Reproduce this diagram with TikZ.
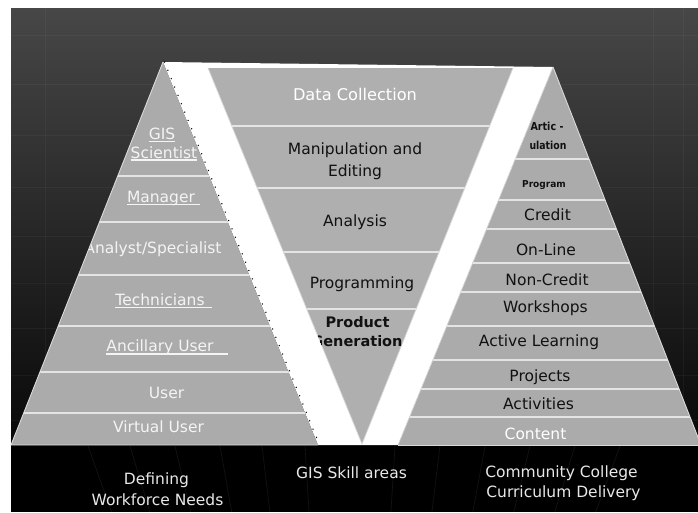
\documentclass[tikz,border=0pt]{standalone}
\usepackage{fontspec}
\setmainfont{DejaVu Sans}
\definecolor{bgtop}{HTML}{474747}
\definecolor{bgmid}{HTML}{2B2B2B}
\definecolor{bgbot}{HTML}{080808}
\definecolor{pyrcol}{HTML}{ABABAB}
\definecolor{midcol}{HTML}{AFAFAF}
\definecolor{sepcol}{HTML}{E4E4E4}
\definecolor{edgecol}{HTML}{DADADA}
\definecolor{lighttxt}{HTML}{F4F4F4}
\definecolor{darktxt}{HTML}{111111}
\definecolor{bottxt}{HTML}{E8E8E8}
\begin{document}
\begin{tikzpicture}[x=1pt,y=-1pt,
  lt/.style={font=\fontsize{15.5}{18}\selectfont, text=lighttxt, inner sep=0pt, anchor=base},
  dk/.style={font=\fontsize{15.5}{18}\selectfont, text=darktxt, inner sep=0pt, anchor=base},
  dkb/.style={font=\fontsize{14.5}{17}\selectfont\bfseries, text=darktxt, inner sep=0pt, anchor=base},
  dks/.style={font=\fontsize{11}{13}\selectfont\bfseries, text=darktxt, inner sep=0pt, anchor=base},
  bt/.style={font=\fontsize{15.5}{18}\selectfont, text=bottxt, inner sep=0pt, anchor=base},
  ulline/.style={draw=lighttxt, line width=1.2pt},
  sepline/.style={draw=sepcol, line width=1.8pt},
  edgeline/.style={draw=edgecol, line width=0.9pt},
  faint/.style={draw=white, opacity=0.04, line width=0.8pt},
  floorline/.style={draw=white, opacity=0.08, line width=0.6pt},
]
\useasboundingbox (0,0) rectangle (698,512);
\fill[white] (0,0) rectangle (698,512);
% background
\shade[top color=bgtop, middle color=bgmid, bottom color=bgbot] (11,8) rectangle (698,445);
\fill[black] (11,445) rectangle (698,512);
\foreach \y in {35,84,135,187,236,283,328,375,420} \draw[faint] (11,\y) -- (698,\y);
\foreach \x in {45,653,683} \draw[faint] (\x,8) -- (\x,445);
\foreach \x in {88,130,175,220,262,305,395,440,485,530,575,620} \draw[floorline] (\x,446) -- ({\x+(350-\x)*0.09},512);
% coordinates
\coordinate (LA) at (163,62);
\coordinate (LL) at (11,445);
\coordinate (LR) at (318,445);
\coordinate (MA) at (208,68);
\coordinate (MB) at (513,68);
\coordinate (MC) at (362,444);
\coordinate (RA) at (553,67);
\coordinate (RL) at (398,445);
\coordinate (RR) at (701,445);
% white band
\fill[white] (LA) -- (RA) -- (RL) -- (LR) -- cycle;
% pyramids
\fill[pyrcol] (LA) -- (LR) -- (LL) -- cycle;
\fill[midcol] (MA) -- (MB) -- (MC) -- cycle;
\fill[pyrcol] (RA) -- (RR) -- (RL) -- cycle;
% separators
\begin{scope}
  \clip (LA) -- (LR) -- (LL) -- cycle;
  \foreach \y in {176,222,275,326,372,413} \draw[sepline] (0,\y) -- (698,\y);
\end{scope}
\begin{scope}
  \clip (MA) -- (MB) -- (MC) -- cycle;
  \foreach \y in {126,188,252,309} \draw[sepline] (0,\y) -- (698,\y);
\end{scope}
\begin{scope}
  \clip (RA) -- (RR) -- (RL) -- cycle;
  \foreach \y in {159,200,229,263,292,326,360,389,417} \draw[sepline] (0,\y) -- (698,\y);
\end{scope}
% edges
\draw[edgeline] (LA) -- (LL) -- (LR);
\draw[edgeline] (RA) -- (RR);
\draw[edgeline] (RL) -- (RR);
\draw[draw=edgecol, line width=0.7pt] (MA) -- (MC) -- (MB);
\draw[draw=edgecol, line width=0.7pt] (RA) -- (RL);
\draw[black, line width=1.5pt, line cap=round, dash pattern=on 0pt off 9pt] ([xshift=1.5pt]LA) -- ([xshift=1.5pt]LR);
% left pyramid texts
\begin{scope}
  \clip (LA) -- (LR) -- (LL) -- cycle;
  \node[lt] (gis) at (162,139.5) {GIS};
  \node[lt] (sci) at (164,158) {Scientist};
  \node[lt] (mgr) at (161,202.5) {Manager};
  \node[lt] (ana) at (153,253) {Analyst/Specialist};
  \node[lt] (tec) at (160,305) {Technicians};
  \node[lt] (anc) at (160,351.5) {Ancillary User};
  \node[lt] (usr) at (166.5,398) {User};
  \node[lt] (vus) at (158.5,432) {Virtual User};
  \draw[ulline] ([yshift=-1.6pt]gis.base west) -- ([yshift=-1.6pt]gis.base east);
  \draw[ulline] ([yshift=-2pt]sci.base west) -- ([yshift=-2pt]sci.base east);
  \draw[ulline] ([yshift=-1.8pt]mgr.base west) -- ([yshift=-1.8pt,xshift=5pt]mgr.base east);
  \draw[ulline] ([yshift=-2.5pt]tec.base west) -- ([yshift=-2.5pt,xshift=7pt]tec.base east);
  \draw[ulline] ([yshift=-2.5pt]anc.base west) -- ([yshift=-2.5pt,xshift=14pt]anc.base east);
\end{scope}
% middle texts
\begin{scope}
  \clip (MA) -- (MB) -- (MC) -- cycle;
  \node[lt, text=white, font=\fontsize{16.2}{19}\selectfont] (dc) at (355,100) {Data Collection};
  \node[dk] (man) at (355,154) {Manipulation and};
  \node[dk] (edi) at (355,176) {Editing};
  \node[dk] (anl) at (355,226.5) {Analysis};
  \node[dk] (prg) at (362,288) {Programming};
  \node[dkb] (pro) at (357.5,327) {Product};
  \node[dkb] (gen) at (357,346) {Generation};
\end{scope}
% right pyramid texts
\node[dks] (art) at (547,130) {\scalebox{0.87}[1]{Artic -}};
\node[dks] (ula) at (548,149) {\scalebox{0.85}[1]{ulation}};
\node[dks, font=\fontsize{9.5}{11}\selectfont\bfseries] (prgm) at (544,187) {\scalebox{0.95}[1]{Program}};
\node[dk] (cre) at (547.5,220) {Credit};
\node[dk] (onl) at (546,255) {On-Line};
\node[dk] (ncr) at (547,285) {Non-Credit};
\node[dk] (wsh) at (545.5,312.5) {Workshops};
\node[dk] (act) at (539,346.5) {Active Learning};
\node[dk] (prj) at (540,381.5) {Projects};
\node[dk] (acv) at (538.5,409.5) {Activities};
\node[lt, text=white] (con) at (535.5,439) {Content};
% bottom labels
\node[bt] (def) at (156.5,484) {Defining};
\node[bt] (wfn) at (157.5,505) {Workforce Needs};
\node[bt] (gsa) at (351.5,478) {GIS Skill areas};
\node[bt] (ccl) at (561.5,477.5) {Community College};
\node[bt] (cud) at (563.5,497.5) {Curriculum Delivery};
\end{tikzpicture}
\end{document}
